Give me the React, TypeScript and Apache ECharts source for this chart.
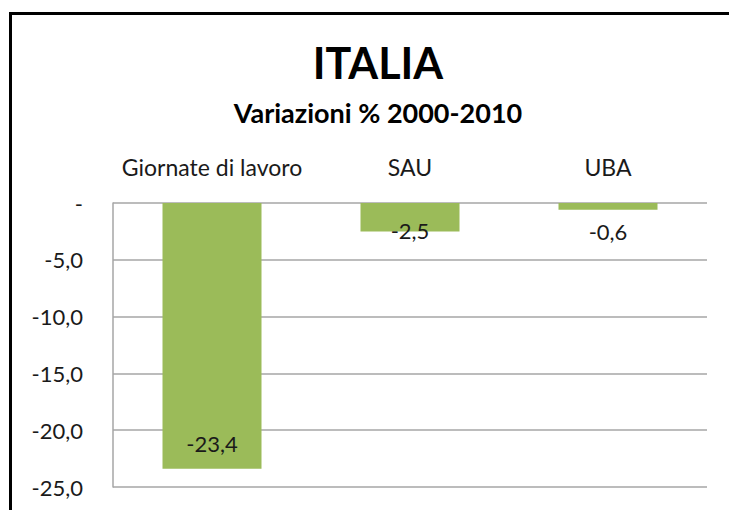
import React, { useEffect, useRef } from "react";
import * as echarts from "echarts";

const categories = ["Giornate di lavoro", "SAU", "UBA"];
const values = [-23.4, -2.5, -0.6];
const titleText = "ITALIA";
const subtitleText = "Variazioni % 2000-2010";

const FONT = "Lato, 'Open Sans', sans-serif";

export default function App() {
  const ref = useRef<HTMLDivElement>(null);
  useEffect(() => {
    if (!ref.current) return;
    const chart = echarts.init(ref.current, null, { renderer: "svg" });
    const fmt = (v: number) => (v === 0 ? "-" : v.toFixed(1).replace(".", ","));
    const labelCfg = [
      { position: "insideBottom", distance: 14 },
      { position: "bottom", distance: -12 },
      { position: "bottom", distance: 11 },
    ];
    chart.setOption({
      animation: false,
      backgroundColor: "#ffffff",
      title: [
        {
          text: titleText,
          left: 373,
          top: 36,
          textAlign: "center",
          textStyle: { fontFamily: FONT, fontSize: 43, fontWeight: "bold", color: "#000" },
        },
        {
          text: subtitleText,
          left: 373,
          top: 94,
          textAlign: "center",
          textStyle: { fontFamily: FONT, fontSize: 27, fontWeight: "bold", color: "#000" },
        },
      ],
      graphic: [
        { type: "line", shape: { x1: 9, y1: 13.5, x2: 729, y2: 13.5 }, style: { stroke: "#000", lineWidth: 3 } },
        { type: "line", shape: { x1: 10.5, y1: 12, x2: 10.5, y2: 510 }, style: { stroke: "#000", lineWidth: 3 } },
      ],
      grid: { left: 113, right: 22, top: 203, bottom: 23 },
      xAxis: {
        type: "category",
        data: categories,
        position: "top",
        axisLine: { show: false },
        axisTick: { show: false },
        axisLabel: {
          fontFamily: FONT,
          fontSize: 23,
          color: "#1a1a1a",
          margin: 25,
          interval: 0,
          hideOverlap: false,
        },
      },
      yAxis: {
        type: "value",
        min: -25,
        max: 0,
        interval: 5,
        axisLine: { show: true, lineStyle: { color: "#A6A6A6", width: 1.5 } },
        axisTick: { show: false },
        splitLine: { lineStyle: { color: "#A6A6A6", width: 1.5 } },
        axisLabel: {
          fontFamily: FONT,
          fontSize: 22,
          color: "#1a1a1a",
          margin: 30,
          formatter: fmt,
        },
      },
      series: [
        {
          type: "bar",
          barWidth: "50%",
          itemStyle: { color: "#9BBB59" },
          data: values.map((v, i) => ({
            value: v,
            label: {
              show: true,
              position: labelCfg[i].position,
              distance: labelCfg[i].distance,
              fontFamily: FONT,
              fontSize: 22,
              color: "#1a1a1a",
              formatter: (p: any) => fmt(p.value),
            },
          })),
        },
      ],
    });
    return () => chart.dispose();
  }, []);
  return (
    <div
      ref={ref}
      style={{ position: "fixed", left: 0, top: 0, width: 729, height: 510 }}
    />
  );
}
